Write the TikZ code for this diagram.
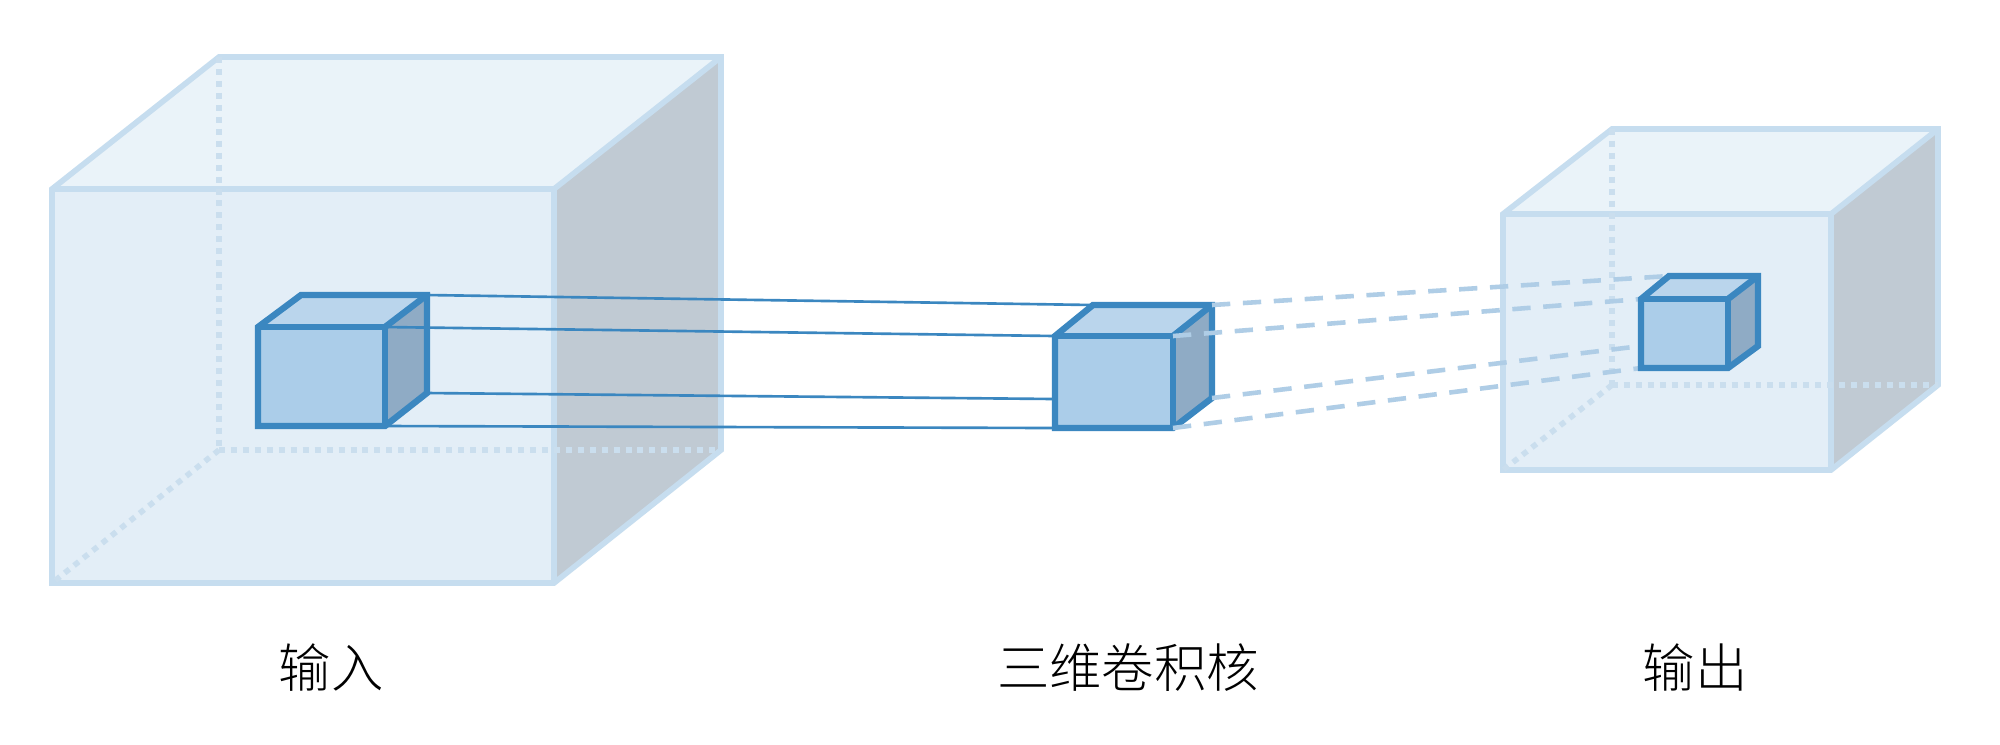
\documentclass[tikz,border=0pt]{standalone}
\usepackage{fontspec}
\newfontfamily\cjkfont{Noto Sans CJK SC Light}
\definecolor{bigfront}{HTML}{E3EEF7}
\definecolor{bigtop}{HTML}{EAF3F9}
\definecolor{bigside}{HTML}{C0CAD3}
\definecolor{bigedge}{HTML}{C6DDEF}
\definecolor{bigdot}{HTML}{CADEEE}
\definecolor{smallfront}{HTML}{ABCDE9}
\definecolor{smalltop}{HTML}{BAD5EC}
\definecolor{smallside}{HTML}{8FABC5}
\definecolor{smalledge}{HTML}{3B87C0}
\definecolor{dashcol}{HTML}{AFCDE6}
\tikzset{
  bigline/.style={draw=bigedge,line width=1.6pt,line join=miter},
  bigdotted/.style={draw=bigdot,line width=1.6pt,dash pattern=on 1.7pt off 1.7pt},
  smallline/.style={draw=smalledge,line width=1.8pt,line join=miter},
  linkline/.style={draw=smalledge,line width=0.75pt},
  linkdash/.style={draw=dashcol,line width=1.3pt,dash pattern=on 5.2pt off 3.6pt},
  caption/.style={font=\cjkfont\fontsize{14.9pt}{16pt}\selectfont,text=black,inner sep=0pt},
}
% prefix, xfl, xfr, yft, yfb, xbl, xbr, ybt, ybb
\newcommand\cubepts[9]{%
  \coordinate (#1fta) at (#2,#4);
  \coordinate (#1ftb) at (#3,#4);
  \coordinate (#1fba) at (#2,#5);
  \coordinate (#1fbb) at (#3,#5);
  \coordinate (#1bta) at (#6,#8);
  \coordinate (#1btb) at (#7,#8);
  \coordinate (#1bba) at (#6,#9);
  \coordinate (#1bbb) at (#7,#9);
}
\newcommand\bigcube[1]{%
  \fill[bigfront] (#1fta) -- (#1ftb) -- (#1fbb) -- (#1fba) -- cycle;
  \fill[bigtop] (#1fta) -- (#1bta) -- (#1btb) -- (#1ftb) -- cycle;
  \fill[bigside] (#1ftb) -- (#1btb) -- (#1bbb) -- (#1fbb) -- cycle;
  \draw[bigline] (#1fta) -- (#1bta) -- (#1btb) -- (#1bbb) -- (#1fbb) -- (#1fba) -- cycle;
  \draw[bigline] (#1fta) -- (#1ftb) -- (#1fbb);
  \draw[bigline] (#1ftb) -- (#1btb);
  \draw[bigdotted] (#1bta) -- (#1bba);
  \draw[bigdotted] (#1bba) -- (#1bbb);
  \draw[bigdotted] (#1bba) -- (#1fba);
}
\newcommand\smallcube[1]{%
  \fill[smallfront] (#1fta) -- (#1ftb) -- (#1fbb) -- (#1fba) -- cycle;
  \fill[smalltop] (#1fta) -- (#1bta) -- (#1btb) -- (#1ftb) -- cycle;
  \fill[smallside] (#1ftb) -- (#1btb) -- (#1bbb) -- (#1fbb) -- cycle;
  \draw[smallline] (#1fta) -- (#1bta) -- (#1btb) -- (#1bbb) -- (#1fbb) -- (#1fba) -- cycle;
  \draw[smallline] (#1fta) -- (#1ftb) -- (#1fbb);
  \draw[smallline] (#1ftb) -- (#1btb);
}
\begin{document}
\begin{tikzpicture}[x=0.01cm,y=-0.01cm]
\useasboundingbox (0,0) rectangle (2000,744);
\fill[white] (0,0) rectangle (2000,744);
\cubepts{A}{52}{554}{189}{583}{219}{721}{57}{450}
\cubepts{O}{1503}{1831}{214}{470}{1612}{1938}{129}{385}
\cubepts{a}{258}{385}{327}{426}{301}{427}{295}{393}
\cubepts{k}{1055}{1173}{336}{428}{1093}{1212}{305}{398}
\cubepts{o}{1641}{1728}{299}{368}{1669}{1758}{276}{346}
\bigcube{A}
\bigcube{O}
\smallcube{a}
\draw[linkline] (abtb) -- (kbta);
\draw[linkline] (aftb) -- (kfta);
\draw[linkline] (abbb) -- (kfba |- 0,399);
\draw[linkline] (afbb) -- (kfba);
\smallcube{k}
\draw[linkdash] (kbtb) -- (obta);
\draw[linkdash] (kftb) -- (ofta);
\draw[linkdash] (kbbb) -- (ofba |- 0,346);
\draw[linkdash] (kfbb) -- (ofba);
\smallcube{o}
\node[caption] (input) at (331,668) {输入};
\node[caption] (kernel) at (1128,668) {三维卷积核};
\node[caption] (output) at (1695,668) {输出};
\end{tikzpicture}
\end{document}
